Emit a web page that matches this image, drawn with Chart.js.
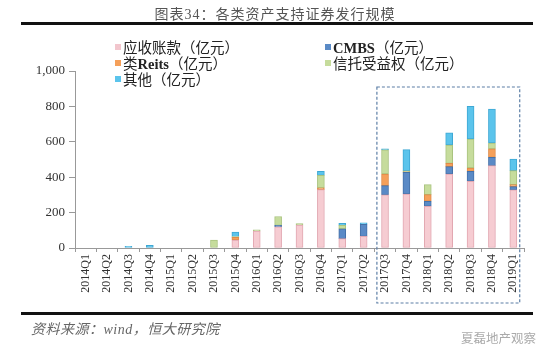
<!DOCTYPE html>
<html>
<head>
<meta charset="utf-8">
<script src="https://cdn.jsdelivr.net/npm/chart.js@4/dist/chart.umd.min.js"></script>
<style>
  html, body { margin: 0; padding: 0; background: #fff; }
  #wrap { position: relative; width: 550px; height: 358px; overflow: hidden; }
  #c { position: absolute; left: 0; top: 0; }
  .txt { position: absolute; white-space: nowrap; font-family: "Liberation Serif", "Noto Sans CJK SC", serif; }
  #title { left: 0; width: 550px; top: 3px; text-align: center; font-size: 14px; letter-spacing: 1px; color: #555; }
  .rule { position: absolute; left: 21px; width: 512px; height: 3px; background: #111; }
  #src { left: 31px; top: 318px; font-size: 14px; letter-spacing: 0.5px; font-style: italic; color: #666; }
  #mark { right: 14px; top: 328px; font-size: 12.5px; color: #aaa; font-family: "Noto Sans CJK SC", sans-serif; }
  .lg { position: absolute; font-size: 14.5px; color: #222; line-height: 16px; white-space: nowrap;
        font-family: "Liberation Serif", "Noto Sans CJK SC", serif; }
  .lg i { display: inline-block; width: 6px; height: 6px; margin-right: 2px; vertical-align: 3px; }
  .lg b { font-weight: bold; }
</style>
</head>
<body>
<div id="wrap">
  <canvas id="c" width="550" height="358"></canvas>
  <div id="title" class="txt">图表34：各类资产支持证券发行规模</div>
  <div class="rule" style="top:22px"></div>
  <div class="rule" style="top:312px"></div>
  <div id="src" class="txt">资料来源：wind，恒大研究院</div>
  <div id="mark" class="txt">夏磊地产观察</div>
  <div class="lg" style="left:115px;top:40px"><i style="background:#F2C6CD"></i>应收账款（亿元）</div>
  <div class="lg" style="left:115px;top:56px"><i style="background:#F5A05A"></i>类<b>Reits</b>（亿元）</div>
  <div class="lg" style="left:115px;top:72px"><i style="background:#5BC4EC"></i>其他（亿元）</div>
  <div class="lg" style="left:325px;top:40px"><i style="background:#5A8AC6"></i><b>CMBS</b>（亿元）</div>
  <div class="lg" style="left:325px;top:56px"><i style="background:#C6DC9C"></i>信托受益权（亿元）</div>
</div>
<script>
// 季度
const quarters = ['2014Q1', '2014Q2', '2014Q3', '2014Q4', '2015Q1', '2015Q2', '2015Q3', '2015Q4',
  '2016Q1', '2016Q2', '2016Q3', '2016Q4', '2017Q1', '2017Q2', '2017Q3', '2017Q4',
  '2018Q1', '2018Q2', '2018Q3', '2018Q4', '2019Q1'];

// 发行规模（亿元）
const receivables = [0, 0, 0, 0, 0, 0, 0, 45, 95, 120, 130, 330, 53, 66, 300, 305, 236, 418, 377, 465, 328];
const cmbs        = [0, 0, 0, 0, 0, 0, 0, 0, 0, 8, 0, 0, 55, 68, 52, 122, 28, 42, 56, 47, 19];
const reits       = [0, 0, 0, 0, 0, 0, 0, 15, 0, 0, 0, 10, 0, 0, 66, 4, 38, 18, 19, 48, 11];
const trust       = [0, 0, 0, 0, 0, 0, 45, 5, 8, 50, 8, 70, 20, 0, 136, 5, 56, 104, 164, 33, 79];
const others      = [0, 0, 10, 15, 0, 0, 0, 25, 0, 0, 0, 23, 12, 8, 6, 120, 0, 68, 184, 192, 66];

const yTicks = [0, 200, 400, 600, 800, 1000];

const serif = "'Liberation Serif', 'Noto Sans CJK SC', serif";

function serie(label, data, fill, line) {
  return { label, data, backgroundColor: fill, borderColor: line, borderWidth: 1,
    borderSkipped: false, barThickness: 7 };
}

// 虚线框 2017Q3 - 2019Q1
const boxPlugin = {
  id: 'box',
  afterDraw(chart) {
    const { ctx, chartArea } = chart;
    const x = chart.scales.x;
    const step = x.getPixelForValue(1) - x.getPixelForValue(0);
    const left = x.getPixelForValue(14) - step * 0.38;
    const right = x.getPixelForValue(20) + step * 0.3;
    const top = chartArea.top + 16;
    const bottom = chartArea.bottom + 55;
    ctx.save();
    ctx.strokeStyle = '#5D7FA6';
    ctx.lineWidth = 1.2;
    ctx.setLineDash([3, 2]);
    ctx.strokeRect(left, top, right - left, bottom - top);
    ctx.restore();
  },
};

new Chart(document.getElementById('c'), {
  type: 'bar',
  data: {
    labels: quarters,
    datasets: [
      serie('应收账款（亿元）', receivables, '#F6CCD2', '#E2A7B1'),
      serie('CMBS（亿元）', cmbs, '#5A8AC6', '#4471A8'),
      serie('类Reits（亿元）', reits, '#F5A05A', '#DE8A48'),
      serie('信托受益权（亿元）', trust, '#C6DC9C', '#A9C37F'),
      serie('其他（亿元）', others, '#5BC4EC', '#3EA8D4'),
    ],
  },
  options: {
    responsive: false,
    animation: false,
    layout: { padding: { top: 71, right: 26, left: 0, bottom: 0 } },
    plugins: { legend: { display: false }, tooltip: { enabled: false } },
    scales: {
      x: {
        stacked: true,
        afterFit: (s) => { s.height = 110; },
        border: { color: '#999' },
        grid: { offset: true, drawOnChartArea: false, tickLength: 4, color: '#999' },
        ticks: { autoSkip: false, minRotation: 90, maxRotation: 90, padding: 2, color: '#333',
          font: { family: serif, size: 12 } },
      },
      y: {
        stacked: true,
        min: 0,
        max: 1000,
        afterFit: (s) => { s.width = 75; },
        afterBuildTicks: (s) => { s.ticks = yTicks.map((v) => ({ value: v })); },
        border: { color: '#999' },
        grid: { drawOnChartArea: false, tickLength: 6, color: '#999' },
        ticks: { padding: 4, color: '#333', font: { family: serif, size: 13 },
          callback: (v) => v.toLocaleString('en-US') },
      },
    },
  },
  plugins: [boxPlugin],
});
</script>
</body>
</html>
